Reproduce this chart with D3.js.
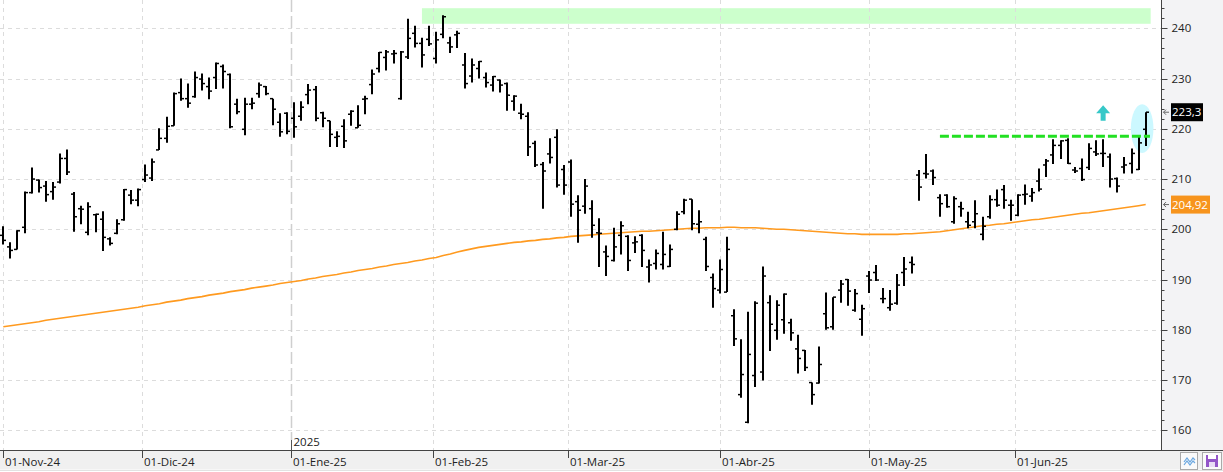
<!DOCTYPE html>
<html>
<head>
<meta charset="utf-8">
<script src="https://cdn.jsdelivr.net/npm/d3@7"></script>
<style>
  html, body { margin: 0; padding: 0; background: #fff; }
  svg { display: block; font-family: "Segoe UI", "Open Sans", "Noto Sans", sans-serif; }
</style>
</head>
<body>
<div id="chart"></div>
<script>
// trading calendar (US session, one bar per day)
var startDate = "2024-11-01";
var holidays = ["2024-11-28", "2024-12-25", "2025-01-01", "2025-01-09", "2025-01-20",
                "2025-02-17", "2025-04-18", "2025-05-26", "2025-06-19"];
var monthNames = ["Ene", "Feb", "Mar", "Abr", "May", "Jun", "Jul", "Ago", "Sep", "Oct", "Nov", "Dic"];

// daily OHLC
var opens = [198.8,196.5,196.0,200.4,207.3,209.8,208.6,207.5,209.4,214.1,
  207.0,204.1,199.4,202.9,202.0,198.1,199.2,201.9,206.8,205.8,
  209.9,210.2,215.8,218.1,220.6,227.2,226.0,226.4,229.9,228.4,
  230.2,232.4,230.8,224.9,219.9,224.9,227.0,228.4,226.0,221.3,
  223.1,222.1,222.5,226.8,227.8,223.2,221.6,218.3,220.5,222.9,
  220.2,225.9,228.8,232.0,234.2,234.9,226.0,234.3,239.0,237.0,
  237.8,234.0,238.8,237.1,238.7,232.7,230.5,232.0,230.2,228.7,
  229.7,229.0,225.5,223.1,222.5,217.1,212.9,215.0,218.3,211.9,
  213.4,205.5,204.6,204.1,199.3,195.5,193.8,198.8,198.6,197.3,
  198.8,192.5,193.2,193.0,192.6,200.0,203.5,206.0,201.0,198.0,
  190.4,187.9,187.5,182.8,167.1,161.6,170.9,171.6,185.4,179.9,
  182.0,181.4,176.2,175.9,169.5,169.4,183.2,180.6,187.9,190.0,
  183.9,182.1,190.7,191.4,186.2,184.4,185.3,191.4,193.4,210.8,
  211.1,211.6,206.3,206.8,201.5,204.5,201.5,201.5,199.0,202.5,
  205.9,207.9,204.8,202.8,206.9,206.6,209.6,212.8,214.8,216.7,
  217.7,211.8,212.1,212.3,215.4,215.1,214.4,210.1,212.4,213.1,
  211.9,219.9];
var highs = [200.6,197.4,199.8,207.5,212.3,209.9,209.6,209.4,215.1,215.9,
  207.4,204.7,205.4,203.1,203.6,198.4,202.0,208.0,207.8,208.1,
  212.9,214.1,220.1,222.4,227.2,230.0,229.0,231.4,231.0,230.2,
  233.2,232.8,231.0,226.0,226.2,226.2,229.2,228.5,226.0,223.1,
  223.3,225.3,225.5,228.9,228.5,223.4,221.6,219.5,221.9,223.7,
  224.7,226.6,231.8,235.3,235.7,235.7,235.5,241.9,240.5,238.1,
  240.5,239.3,242.6,238.3,239.5,235.1,234.0,233.5,231.2,230.5,
  229.8,229.2,226.7,225.0,223.3,217.6,213.4,218.1,219.9,212.8,
  213.9,206.8,210.0,205.8,202.2,196.8,200.3,201.6,198.8,198.6,
  199.0,194.0,196.0,199.5,197.0,203.6,206.1,206.0,203.8,198.5,
  191.2,194.0,198.5,184.1,178.1,183.6,185.7,192.6,186.9,185.9,
  187.2,182.2,179.0,176.0,169.5,176.7,187.4,186.5,189.9,190.1,
  188.1,185.0,191.7,192.9,188.3,187.9,191.1,194.5,194.6,211.8,
  215.0,211.9,207.0,207.0,206.6,205.5,203.5,205.8,202.5,206.8,
  207.9,208.8,205.9,207.0,208.9,208.2,212.1,214.0,217.9,217.7,
  218.1,212.4,214.1,217.1,217.7,217.9,215.1,210.3,214.4,216.1,
  218.4,223.3];
var lows = [197.0,194.2,196.0,199.2,207.1,207.3,205.5,205.9,209.1,210.8,
  199.5,201.0,198.8,199.4,195.7,196.8,199.0,201.7,205.0,204.6,
  209.4,209.6,215.8,217.2,220.6,225.6,224.2,226.2,227.6,225.9,
  227.9,228.0,220.1,222.9,218.7,223.9,226.2,226.7,220.7,218.4,
  218.9,218.2,221.6,224.9,221.5,220.3,216.4,216.4,216.2,220.6,
  220.2,222.9,226.9,231.2,231.6,233.0,225.8,233.9,236.2,232.2,
  236.5,233.0,238.0,235.1,236.1,228.0,229.2,230.0,228.2,227.4,
  227.2,223.6,223.6,221.9,214.6,212.4,204.1,213.1,208.3,206.9,
  202.5,197.3,203.1,198.3,192.5,190.7,193.6,195.0,191.7,195.3,
  192.5,189.4,192.0,192.0,192.5,199.8,203.0,199.8,199.2,191.7,
  184.4,187.2,187.5,176.8,166.5,161.4,168.6,169.9,175.8,178.0,
  179.2,177.8,171.3,171.8,165.1,169.3,180.0,180.0,185.4,184.8,
  183.6,178.8,187.3,189.7,185.3,183.8,185.0,188.7,191.2,205.7,
  210.1,208.8,202.5,204.3,201.1,202.5,200.2,200.2,197.8,202.1,
  204.5,204.1,201.7,202.6,204.9,205.5,207.5,210.4,213.0,214.0,
  213.0,211.2,209.6,211.8,214.6,212.4,208.3,207.3,211.1,211.1,
  211.8,216.6];
var closes = [197.8,195.8,199.7,207.3,210.0,208.3,206.9,208.4,214.1,211.4,
  202.5,204.0,204.5,203.0,198.4,197.2,201.1,207.9,205.8,207.9,
  210.8,213.4,218.1,220.5,227.0,226.0,225.1,230.2,229.0,227.5,
  233.0,231.4,220.4,223.4,224.9,225.1,228.7,227.0,223.9,219.4,
  219.5,220.4,224.3,227.7,222.1,222.1,218.9,218.5,217.6,223.5,
  220.7,226.0,230.9,235.2,235.3,235.0,235.3,238.0,237.0,234.7,
  236.9,237.7,242.3,236.3,239.0,229.0,232.7,233.4,229.2,230.4,
  228.7,226.7,226.5,222.9,216.4,212.8,211.6,214.3,208.8,208.8,
  205.0,203.8,208.6,200.8,199.2,194.6,196.5,200.7,193.8,197.5,
  195.8,192.9,195.2,195.0,196.0,203.0,205.8,201.1,201.5,192.6,
  188.2,192.0,196.0,178.2,171.1,175.1,185.3,190.7,181.1,184.9,
  187.1,179.4,174.3,172.5,167.1,173.1,180.4,186.5,189.1,187.7,
  187.2,184.2,189.9,189.9,186.2,185.1,188.9,192.1,193.0,208.4,
  211.0,210.3,205.1,204.5,206.1,204.1,200.8,203.1,200.6,205.9,
  204.8,205.8,204.8,206.8,207.0,207.3,208.0,213.6,216.7,217.6,
  213.1,211.6,209.9,216.1,215.0,215.1,210.0,208.6,212.8,215.1,
  217.2,223.3];

// 200-session moving average, read point by point
var ma200 = [180.6,180.8,181.0,181.2,181.4,181.6,181.9,182.1,182.3,182.5,
  182.7,182.9,183.1,183.3,183.5,183.7,183.9,184.1,184.3,184.5,
  184.8,185.0,185.2,185.5,185.7,185.9,186.2,186.4,186.6,186.9,
  187.1,187.3,187.6,187.8,188.0,188.3,188.5,188.7,188.9,189.2,
  189.4,189.6,189.8,190.1,190.3,190.6,190.8,191.0,191.3,191.5,
  191.8,192.0,192.2,192.5,192.7,193.0,193.2,193.4,193.7,193.9,
  194.2,194.4,194.8,195.1,195.5,195.8,196.1,196.4,196.6,196.8,
  197.0,197.2,197.4,197.5,197.7,197.8,198.0,198.1,198.3,198.4,
  198.6,198.7,198.8,198.9,199.0,199.1,199.2,199.3,199.4,199.5,
  199.6,199.6,199.7,199.8,199.9,200.0,200.1,200.2,200.2,200.3,
  200.3,200.3,200.4,200.4,200.3,200.3,200.3,200.2,200.1,200.0,
  200.0,199.9,199.8,199.7,199.6,199.5,199.4,199.3,199.2,199.1,
  199.1,199.0,199.0,199.0,199.0,199.0,199.0,199.1,199.1,199.2,
  199.3,199.4,199.5,199.7,199.9,200.1,200.3,200.5,200.7,200.8,
  201.0,201.1,201.3,201.5,201.7,201.9,202.0,202.2,202.4,202.6,
  202.8,203.0,203.2,203.3,203.5,203.7,203.9,204.1,204.3,204.5,
  204.7,204.92];

var yTicks = [160, 170, 180, 190, 200, 210, 220, 230, 240];
var yMinorTicks = [160,162,164,166,168,170,172,174,176,178,180,182,184,186,188,190,192,194,196,198,
  200,202,204,206,208,210,212,214,216,218,220,222,224,226,228,230,232,234,236,238,240,242,244];

// drawn annotations (bar index / price)
var zone = { from: 59, to: 161.7, low: 240.9, high: 244.0 };
var resistance = { from: 132, to: 161.6, price: 218.5 };
var upArrow = { bar: 155, tip: 224.7, base: 221.6 };
var breakout = { bar: 160.5, price: 220.05, halfRange: 4.85 };
var lastClose = 223.3, lastMa = 204.92;

var W = 1223, H = 472;
var plotRight = 1161.5, plotBottom = 450.5;
var fontSize = 11.5;

var svg = d3.select("#chart").append("svg").attr("width", W).attr("height", H);

var dates = (function () {
  var out = [], d = new Date(startDate + "T12:00:00"), fmt = d3.timeFormat("%Y-%m-%d");
  while (out.length < opens.length) {
    var wd = d.getDay();
    if (wd !== 0 && wd !== 6 && holidays.indexOf(fmt(d)) < 0) out.push(new Date(d));
    d.setDate(d.getDate() + 1);
  }
  return out;
})();

var x = d3.scaleLinear().domain([0, opens.length - 1]).range([3.3, 1145.7]);
var y = d3.scaleLinear().domain([160, 240]).range([430.3, 28.3]);

// month starts (a tick falls just before the bar when the 1st is not a session)
var monthTicks = [];
dates.forEach(function (d, i) {
  if (i === 0 || d.getMonth() !== dates[i - 1].getMonth()) {
    monthTicks.push({
      pos: i - (d.getDate() === 1 ? 0 : 0.4),
      label: "01-" + monthNames[d.getMonth()] + "-" + d3.timeFormat("%y")(d),
      year: d.getMonth() === 0 ? d.getFullYear() : null
    });
  }
});

// panels
svg.append("rect").attr("x", 0).attr("y", 0).attr("width", W).attr("height", H).attr("fill", "#fff");
svg.append("rect").attr("x", plotRight).attr("y", 0).attr("width", W - plotRight).attr("height", plotBottom)
  .attr("fill", "#f3f3f5");
svg.append("rect").attr("x", 0).attr("y", plotBottom).attr("width", W).attr("height", 19)
  .attr("fill", "#f0f0f0");
svg.append("line").attr("x1", 0).attr("x2", W).attr("y1", 470.5).attr("y2", 470.5).attr("stroke", "#e2e2e2");

var plot = svg.append("g");

// zone box
plot.append("rect")
  .attr("x", x(zone.from)).attr("y", y(zone.high))
  .attr("width", x(zone.to) - x(zone.from)).attr("height", y(zone.low) - y(zone.high))
  .attr("fill", "#ccffcc");

// grid
plot.selectAll(".hgrid").data(yTicks).join("line")
  .attr("class", "hgrid")
  .attr("x1", 0).attr("x2", plotRight)
  .attr("y1", function (d) { return Math.round(y(d)) + 0.5; })
  .attr("y2", function (d) { return Math.round(y(d)) + 0.5; })
  .attr("stroke", "#dcdcdc").attr("stroke-dasharray", "4,4");

plot.selectAll(".vgrid").data(monthTicks.filter(function (t) { return !t.year; })).join("line")
  .attr("class", "vgrid")
  .attr("x1", function (d) { return Math.round(x(d.pos)) + 0.5; })
  .attr("x2", function (d) { return Math.round(x(d.pos)) + 0.5; })
  .attr("y1", 0).attr("y2", plotBottom)
  .attr("stroke", "#dcdcdc").attr("stroke-dasharray", "4,4");

monthTicks.filter(function (t) { return t.year; }).forEach(function (t) {
  var xx = Math.round(x(t.pos)) + 0.5;
  plot.append("line").attr("x1", xx).attr("x2", xx).attr("y1", 0).attr("y2", 440)
    .attr("stroke", "#cfcfcf").attr("stroke-width", 1.5).attr("stroke-dasharray", "12,4");
  plot.append("line").attr("x1", xx).attr("x2", xx).attr("y1", 440).attr("y2", plotBottom)
    .attr("stroke", "#555");
  plot.append("text").attr("x", xx + 2).attr("y", 446).attr("font-size", fontSize).attr("fill", "#222")
    .text(t.year);
});

// breakout ellipse
plot.append("ellipse")
  .attr("cx", x(breakout.bar)).attr("cy", y(breakout.price))
  .attr("rx", 11.3).attr("ry", y(breakout.price - breakout.halfRange) - y(breakout.price))
  .attr("fill", "#ccf8ff");

// moving average
plot.append("path")
  .datum(ma200)
  .attr("fill", "none").attr("stroke", "#ff9a1f").attr("stroke-width", 1.6)
  .attr("d", d3.line().x(function (d, i) { return x(i); }).y(function (d) { return y(d); }));

// OHLC bars
var bars = plot.selectAll(".bar").data(opens).join("g").attr("class", "bar");
bars.append("line")
  .attr("x1", function (d, i) { return Math.round(x(i)); })
  .attr("x2", function (d, i) { return Math.round(x(i)); })
  .attr("y1", function (d, i) { return y(highs[i]); })
  .attr("y2", function (d, i) { return y(lows[i]); })
  .attr("stroke", "#000").attr("stroke-width", 2);
bars.append("line")
  .attr("x1", function (d, i) { return Math.round(x(i)) - 3; })
  .attr("x2", function (d, i) { return Math.round(x(i)); })
  .attr("y1", function (d) { return y(d); })
  .attr("y2", function (d) { return y(d); })
  .attr("stroke", "#000").attr("stroke-width", 1.5);
bars.append("line")
  .attr("x1", function (d, i) { return Math.round(x(i)); })
  .attr("x2", function (d, i) { return Math.round(x(i)) + 3; })
  .attr("y1", function (d, i) { return y(closes[i]); })
  .attr("y2", function (d, i) { return y(closes[i]); })
  .attr("stroke", "#000").attr("stroke-width", 1.5);

// resistance line
plot.append("line")
  .attr("x1", x(resistance.from)).attr("x2", x(resistance.to))
  .attr("y1", y(resistance.price)).attr("y2", y(resistance.price))
  .attr("stroke", "#22e022").attr("stroke-width", 3).attr("stroke-dasharray", "9,3");

// up arrow
var ax = x(upArrow.bar), at = y(upArrow.tip), ab = y(upArrow.base), mid = at + 8;
plot.append("path")
  .attr("d", "M" + ax + "," + at + " L" + (ax + 7) + "," + mid + " L" + (ax + 2.5) + "," + mid +
    " L" + (ax + 2.5) + "," + ab + " L" + (ax - 2.5) + "," + ab + " L" + (ax - 2.5) + "," + mid +
    " L" + (ax - 7) + "," + mid + " Z")
  .attr("fill", "#36c8c8");

// right axis
svg.append("line").attr("x1", plotRight).attr("x2", plotRight).attr("y1", 0).attr("y2", plotBottom)
  .attr("stroke", "#444");
svg.selectAll(".ymin").data(yMinorTicks).join("line")
  .attr("class", "ymin")
  .attr("x1", plotRight).attr("x2", function (d) { return d % 10 === 0 ? plotRight + 6 : plotRight + 3; })
  .attr("y1", function (d) { return Math.round(y(d)) + 0.5; })
  .attr("y2", function (d) { return Math.round(y(d)) + 0.5; })
  .attr("stroke", "#444");
svg.selectAll(".ylab").data(yTicks).join("text")
  .attr("class", "ylab")
  .attr("x", 1171.5).attr("y", function (d) { return y(d); }).attr("dy", "0.35em")
  .attr("font-size", fontSize).attr("fill", "#222")
  .text(function (d) { return d; });

// price tags
function tag(value, text, bg, w) {
  var yy = y(value);
  svg.append("path")
    .attr("d", "M1169," + yy + " L1163.5," + yy + " M1166," + (yy - 2.5) + " L1163.5," + yy + " L1166," + (yy + 2.5))
    .attr("fill", "none").attr("stroke", "#666");
  svg.append("rect").attr("x", 1171).attr("y", yy - 9).attr("width", w).attr("height", 18).attr("fill", bg);
  svg.append("text").attr("x", 1172).attr("y", yy).attr("dy", "0.35em")
    .attr("font-size", fontSize).attr("fill", "#fff").text(text);
}
tag(lastClose, d3.format(".1f")(lastClose).replace(".", ","), "#000", 32);
tag(lastMa, d3.format(".2f")(lastMa).replace(".", ","), "#f7941d", 39);

// bottom axis
svg.append("line").attr("x1", 0).attr("x2", W).attr("y1", plotBottom).attr("y2", plotBottom)
  .attr("stroke", "#444");
var xt = svg.selectAll(".xt").data(monthTicks).join("g").attr("class", "xt")
  .attr("transform", function (d) { return "translate(" + (Math.round(x(d.pos)) + 0.5) + ",0)"; });
xt.append("line").attr("y1", plotBottom).attr("y2", 458).attr("stroke", "#444");
xt.append("text").attr("x", 1.5).attr("y", 466).attr("font-size", fontSize).attr("fill", "#222")
  .text(function (d) { return d.label; });

// toolbar buttons
svg.append("rect").attr("x", 1180.5).attr("y", 452.5).attr("width", 17).attr("height", 17)
  .attr("fill", "#fafafa").attr("stroke", "#aaa");
svg.append("path").attr("d", "M1184,462 L1187,458 L1190,462 L1193,458 L1195,460 M1184,465 L1187,461 L1190,465 L1193,461 L1195,463")
  .attr("fill", "none").attr("stroke", "#6aa7e0").attr("stroke-width", 1.2);
svg.append("rect").attr("x", 1202.5).attr("y", 452.5).attr("width", 19).attr("height", 17)
  .attr("fill", "#fafafa").attr("stroke", "#aaa");
svg.append("rect").attr("x", 1206).attr("y", 455).attr("width", 12).attr("height", 12).attr("fill", "#9355c8");
svg.append("rect").attr("x", 1208).attr("y", 455).attr("width", 8).attr("height", 4).attr("fill", "#fff");
svg.append("rect").attr("x", 1209).attr("y", 462).attr("width", 6).attr("height", 5).attr("fill", "#e8dcf5");
</script>
</body>
</html>
